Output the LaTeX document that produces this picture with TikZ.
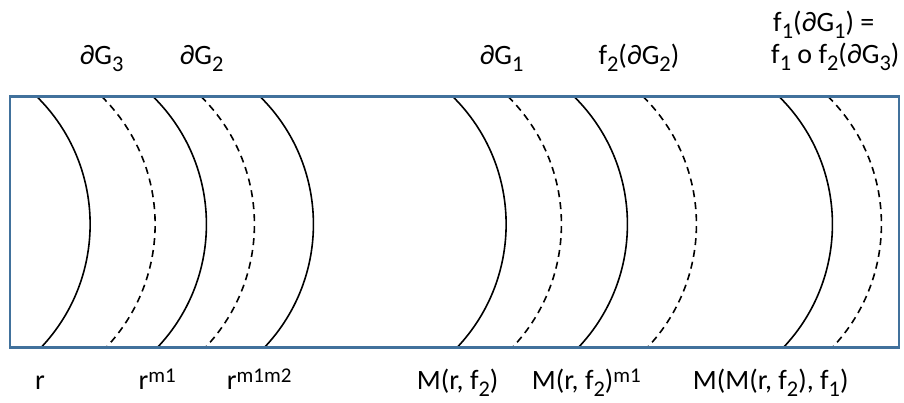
\documentclass[tikz,border=0pt]{standalone}
\usepackage{fontspec}
\setmainfont{Carlito}
\definecolor{boxblue}{HTML}{41719C}
\newcommand\sbx[1]{\raisebox{-0.25em}{\scalebox{0.8}{#1}}}
\newcommand\spx[1]{\raisebox{0.24em}{\scalebox{0.75}{#1}}}
\tikzset{
  lbl/.style={inner sep=0pt, font=\fontsize{28}{32}\selectfont},
  solidarc/.style={line width=1.6pt, black},
  dasharc/.style={line width=1.6pt, black, dash pattern=on 7pt off 5pt},
  frame/.style={draw=boxblue, line width=2.6pt}
}
\newcommand\arcfrom[2]{\draw[#1] (#2,96.5) arc[start angle=-45.4, end angle=43.4, radius=179.4];}
\begin{document}
\begin{tikzpicture}[x=1pt,y=-1pt]
\useasboundingbox (0,0) rectangle (904,403);
% arcs
\arcfrom{solidarc}{36.7}
\arcfrom{dasharc}{101.7}
\arcfrom{solidarc}{153}
\arcfrom{dasharc}{201}
\arcfrom{solidarc}{260}
\arcfrom{solidarc}{452.7}
\arcfrom{dasharc}{508}
\arcfrom{solidarc}{574}
\arcfrom{dasharc}{643}
\arcfrom{solidarc}{779}
\arcfrom{dasharc}{828}
% frame
\draw[frame] (10,96.5) rectangle (899,347.5);
% top labels
\node[lbl, anchor=base west] (g3) at (79.3,65) {∂G\sbx{3}};
\node[lbl, anchor=base west] (g2) at (179.3,65) {∂G\sbx{2}};
\node[lbl, anchor=base west] (g1) at (479.3,65) {∂G\sbx{1}};
\node[lbl, anchor=base west] (f2g2) at (598.3,65) {f\sbx{2}(∂G\sbx{2})};
\node[lbl, anchor=base west] (f1a) at (773,32) {f\sbx{1}(∂G\sbx{1}) =};
\node[lbl, anchor=base west] (f1b) at (771,64) {f\sbx{1} o f\sbx{2}(∂G\sbx{3})};
% bottom labels
\node[lbl, anchor=base west] (r0) at (35,389.5) {r};
\node[lbl, anchor=base west] (r1) at (138.3,389.5) {r\spx{m1}};
\node[lbl, anchor=base west] (r2) at (226.7,389.5) {r\spx{m1m2}};
\node[lbl, anchor=base west] (m1) at (416.7,389.5) {M(r, f\sbx{2})};
\node[lbl, anchor=base west] (m2) at (531.7,389.5) {M(r, f\sbx{2})\spx{m1}};
\node[lbl, anchor=base west] (m3) at (692.7,389.5) {M(M(r, f\sbx{2}), f\sbx{1})};
\end{tikzpicture}
\end{document}
